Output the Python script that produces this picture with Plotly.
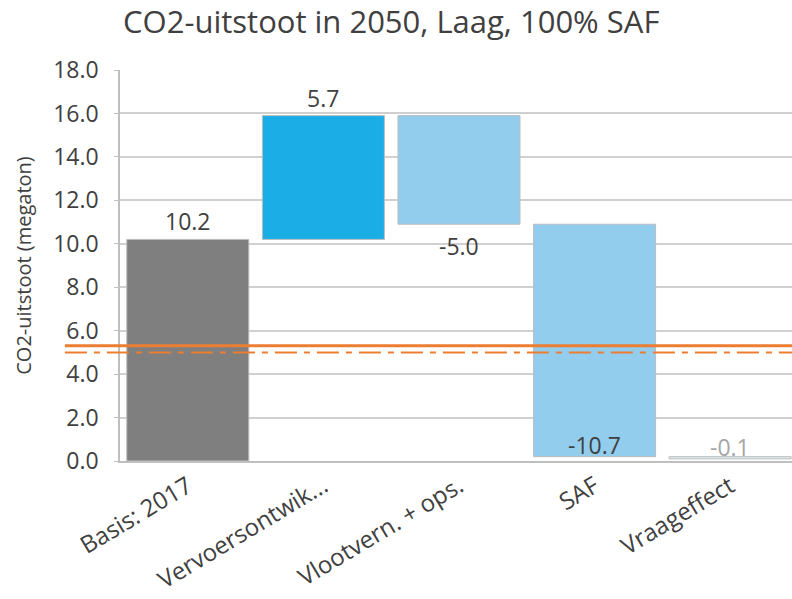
import plotly.graph_objects as go

categories = ["Basis: 2017", "Vervoersontwik...", "Vlootvern. + ops.", "SAF", "Vraageffect"]
values = [10.2, 5.7, -5.0, -10.7, -0.1]
bar_colors = ["#7f7f7f", "#1aade6", "#93cdee", "#93cdee", "#dcedf6"]
label_colors = ["#404040", "#404040", "#404040", "#404040", "#a6a6a6"]
target_solid = 5.3
target_dash = 5.0
y_ticks = [0, 2, 4, 6, 8, 10, 12, 14, 16, 18]

FONT = "Open Sans, DejaVu Sans, sans-serif"
TEXT = "#404040"

# waterfall: first bar absolute, the rest stack on the running total
bases = []
running = 0.0
for i, v in enumerate(values):
    if i == 0:
        bases.append(0.0)
        running = v
    else:
        bases.append(running)
        running += v

fig = go.Figure(go.Bar(
    x=categories, y=values, base=bases, width=0.9,
    marker=dict(color=bar_colors, line=dict(color="#bdbdbd", width=1)),
    hoverinfo="skip", showlegend=False))

annotations = []
for cat, v, b, c in zip(categories, values, bases, label_colors):
    end = b + v
    if v >= 0:
        y, anchor, shift = end, "bottom", 0
    elif end < 1:
        # no room under the bar, keep the label inside the plot
        y, anchor, shift = end, "bottom", -6
    else:
        y, anchor, shift = end, "top", -4
    annotations.append(dict(x=cat, y=y, yanchor=anchor, yshift=shift, showarrow=False,
                            text=f"{v:.1f}", font=dict(size=23, color=c, family=FONT)))

shapes = [
    dict(type="line", xref="paper", yref="y", x0=-0.082, x1=1, y0=target_solid, y1=target_solid,
         line=dict(color="#ed7d31", width=3), layer="above"),
    dict(type="line", xref="paper", yref="y", x0=-0.082, x1=1, y0=target_dash, y1=target_dash,
         line=dict(color="#ed7d31", width=2, dash="22px,7px,6px,7px"), layer="above"),
]

fig.update_layout(
    width=792, height=599,
    margin=dict(l=120, r=0, t=70, b=138),
    paper_bgcolor="white", plot_bgcolor="white",
    font=dict(family=FONT, color=TEXT),
    title=dict(text="CO2-uitstoot in 2050, Laag, 100% SAF", x=0.494, xanchor="center",
               y=1 - 22 / 599, yanchor="middle", yref="container",
               font=dict(size=31, color=TEXT, family=FONT)),
    annotations=annotations, shapes=shapes,
)
fig.update_xaxes(range=[-0.5, 4.456], showgrid=False, zeroline=False, automargin=False,
                 showline=True, linecolor="#bfbfbf", linewidth=2,
                 tickangle=-31, tickfont=dict(size=24, color=TEXT, family=FONT))
fig.update_yaxes(range=[0, 18], tickvals=y_ticks, tickformat=".1f", automargin=False,
                 showgrid=True, gridcolor="#d0d0d0", gridwidth=1.5, zeroline=False,
                 showline=True, linecolor="#bfbfbf", linewidth=1.5,
                 ticks="outside", ticklen=4, tickcolor="#bfbfbf", ticklabelstandoff=11,
                 tickfont=dict(size=23, color=TEXT, family=FONT),
                 title=dict(text="CO2-uitstoot (megaton)", standoff=16,
                            font=dict(size=20, color=TEXT, family=FONT)))

# drop the default 8px page margin so the figure sits at the window's corner
fig.write_html("out.html", config={"displayModeBar": False},
               post_script="document.body.style.margin='0';")
